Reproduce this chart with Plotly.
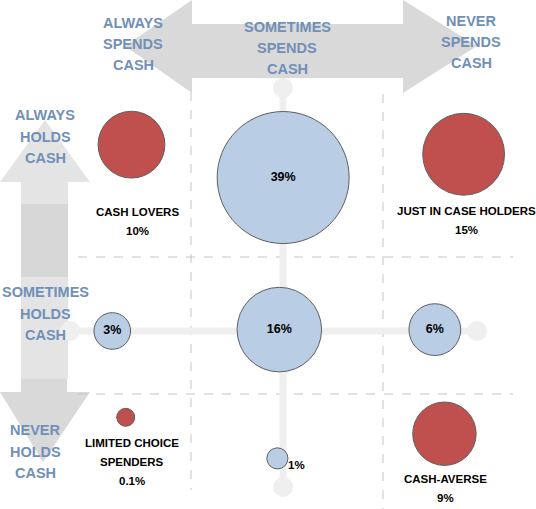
import plotly.graph_objects as go

# bubble data: spending column (1=always, 2=sometimes, 3=never spends cash),
# holding row (1=always, 2=sometimes, 3=never holds cash), share of respondents
segments = ['CASH LOVERS', '', 'JUST IN CASE HOLDERS', '', '', '', 'LIMITED CHOICE<br>SPENDERS', '', 'CASH-AVERSE']
spend_pos = [1.19, 1.98, 2.92, 1.09, 1.96, 2.77, 1.16, 1.95, 2.82]
hold_pos = [0.68, 0.92, 0.75, 2.04, 2.03, 2.03, 2.67, 2.97, 2.79]
share = [10, 39, 15, 3, 16, 6, 0.1, 1, 9]
share_text = ['10%', '39%', '15%', '3%', '16%', '6%', '0.1%', '1%', '9%']
is_segment = [True, False, True, False, False, False, True, False, True]

spend_labels = ['ALWAYS<br>SPENDS<br>CASH', 'SOMETIMES<br>SPENDS<br>CASH', 'NEVER<br>SPENDS<br>CASH']
hold_labels = ['ALWAYS<br>HOLDS<br>CASH', 'SOMETIMES<br>HOLDS<br>CASH', 'NEVER<br>HOLDS<br>CASH']

RED = '#c0504d'
BLUE = '#b9cde5'
AXIS_BLUE = '#7090b8'
FONT = 'Liberation Sans, Arial, sans-serif'

W, H = 536, 509


# pixel -> data helpers for the decorations
def X(px):
    return (px + 97) / 192


def Y(py):
    return (py - 51.5) / 137


def poly(pts, color):
    path = 'M ' + ' L '.join(f'{X(a):.4f},{Y(b):.4f}' for a, b in pts) + ' Z'
    return dict(type='path', path=path, fillcolor=color, line=dict(width=0), layer='below')


fig = go.Figure()

# lollipop cross through the middle
fig.add_trace(go.Scatter(x=[X(283), X(283)], y=[Y(88), Y(487)], mode='lines+markers',
                         line=dict(color='#efefef', width=7),
                         marker=dict(size=20, color='#efefef'), hoverinfo='skip'))
fig.add_trace(go.Scatter(x=[X(70), X(477)], y=[Y(331), Y(331)], mode='lines+markers',
                         line=dict(color='#efefef', width=7),
                         marker=dict(size=20, color='#efefef'), hoverinfo='skip'))

colors = [RED if s else BLUE for s in is_segment]
inner_text = ['' if s else t for s, t in zip(is_segment, share_text)]
inner_text[7] = ''
fig.add_trace(go.Scatter(
    x=spend_pos, y=hold_pos, mode='markers+text',
    text=inner_text, textposition='middle center',
    textfont=dict(family=FONT, size=12.5, color='black', weight='bold'),
    marker=dict(size=share, sizemode='area', sizeref=2 * max(share) / 132 ** 2, sizemin=9,
                color=colors, opacity=1, line=dict(color='#5f5f5f', width=1)),
    hoverinfo='skip'))

shapes = []
# top double arrow
shapes.append(poly([(125, 46), (192, 0), (192, 24), (403, 24), (403, 0), (477, 46),
                    (403, 93), (403, 78), (192, 78), (192, 93)], '#d9d9d9'))
# left vertical arrows
shapes.append(poly([(45, 120), (90, 182), (68, 182), (68, 379), (21, 379), (21, 182), (0, 182)], '#e4e4e4'))
shapes.append(poly([(21, 204), (68, 204), (68, 277), (21, 277)], '#d7d7d7'))
shapes.append(poly([(21, 379), (67, 379), (67, 392), (90, 392), (43, 462), (0, 392), (21, 392)], '#d9d9d9'))

# dashed grid
dash = dict(color='#c4c4c4', width=1, dash='dash')
shapes.append(dict(type='line', x0=1.5, x1=1.5, y0=Y(92), y1=Y(490), line=dash, layer='below'))
shapes.append(dict(type='line', x0=2.5, x1=2.5, y0=Y(94), y1=Y(509), line=dash, layer='below'))
shapes.append(dict(type='line', x0=X(78), x1=X(513), y0=1.5, y1=1.5, line=dash, layer='below'))
shapes.append(dict(type='line', x0=X(78), x1=X(513), y0=2.5, y1=2.5, line=dash, layer='below'))

annotations = []


def label(px, py, lines, size, color, gap):
    for i, line in enumerate(lines):
        annotations.append(dict(x=X(px), y=Y(py + i * gap), text=line, showarrow=False,
                                xanchor='center', yanchor='middle',
                                font=dict(family=FONT, size=size, color=color, weight='bold')))


for (px, py), t in zip([(133, 23), (287, 27), (471, 21)], spend_labels):
    label(px, py, t.split('<br>'), 14.5, AXIS_BLUE, 21)
for (px, py), t in zip([(45, 115), (45, 292), (35, 430)], hold_labels):
    label(px, py, t.split('<br>'), 14.5, AXIS_BLUE, 21.5)

# segment names under the red bubbles
seg_pos = {0: (137, 212), 2: (466, 211), 6: (132, 443), 8: (445, 479)}
for i, (px, py) in seg_pos.items():
    label(px, py, segments[i].split('<br>') + [share_text[i]], 11.5, 'black', 19)
label(296, 465, [share_text[7]], 11.5, 'black', 19)

fig.update_layout(
    width=W, height=H,
    margin=dict(l=0, r=0, t=0, b=0),
    paper_bgcolor='white', plot_bgcolor='white',
    showlegend=False,
    xaxis=dict(range=[X(0), X(W)], visible=False, fixedrange=True),
    yaxis=dict(range=[Y(H), Y(0)], visible=False, fixedrange=True),
    shapes=shapes,
    annotations=annotations,
)

# drop the default page margin so the figure fills the window exactly
fig.write_html('out.html', config={'displayModeBar': False},
               post_script="document.body.style.margin='0';document.body.style.overflow='hidden';")
